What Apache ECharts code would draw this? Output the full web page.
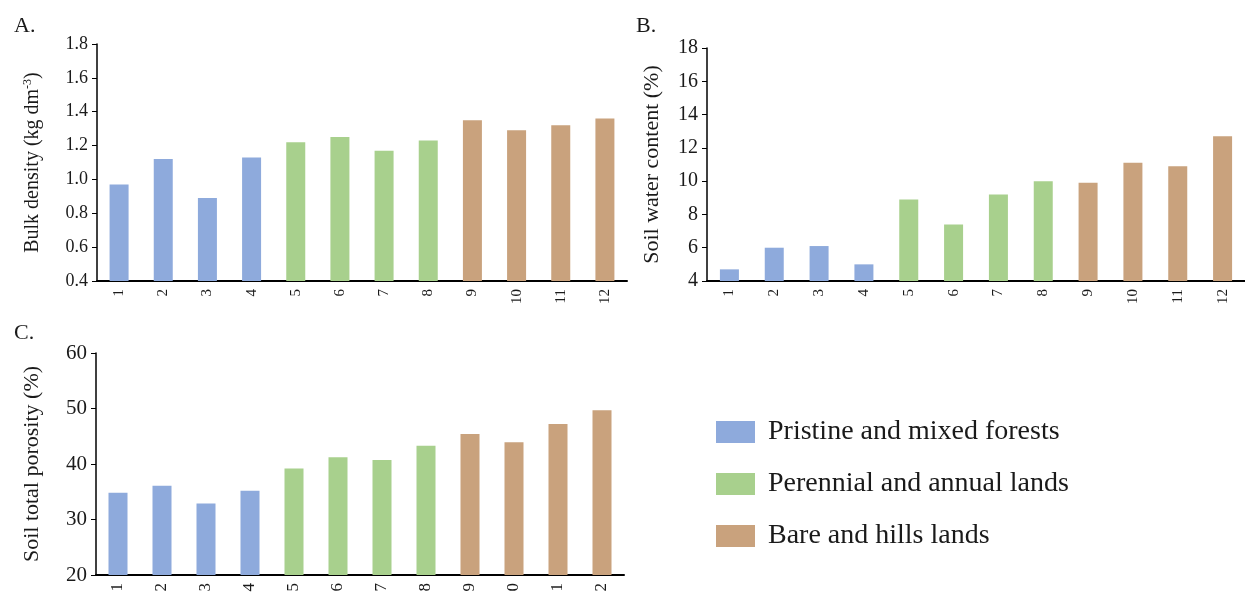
<!DOCTYPE html>
<html>
<head>
<meta charset="utf-8">
<script src="https://cdn.jsdelivr.net/npm/echarts@6/dist/echarts.min.js"></script>
<style>
html,body{margin:0;padding:0;background:#fff;}
#chart{width:1245px;height:597px;}
</style>
</head>
<body>
<div id="chart"></div>
<script>
// ---- data ----
var categories = ["1","2","3","4","5","6","7","8","9","10","11","12"];
var categoryLabelsC = ["1","2","3","4","5","6","7","8","9","0","1","2"];
var groupNames = ["Pristine and mixed forests","Perennial and annual lands","Bare and hills lands"];
var groupOfCategory = [0,0,0,0,1,1,1,1,2,2,2,2];
var bulkDensity = [0.97,1.12,0.89,1.13,1.22,1.25,1.17,1.23,1.35,1.29,1.32,1.36];
var soilWater = [4.7,6.0,6.1,5.0,8.9,7.4,9.2,10.0,9.9,11.1,10.9,12.7];
var porosity = [34.8,36.1,32.9,35.2,39.2,41.2,40.7,43.3,45.4,43.9,47.2,49.7];
var yTicksA = [0.4,1.8,0.2];
var yTicksB = [4,18,2];
var yTicksC = [20,60,10];

// ---- styles ----
var colors = ["#8eaadc","#a8d08d","#c9a27d"];
var FONT = "Liberation Serif";
var TXT = "#1a1a1a";

var grids = [
  {left:97, top:44, width:530, height:237},
  {left:707, top:48, width:543, height:233},
  {left:96, top:353, width:528, height:222}
];

function xAxisFor(i, fs, labels){
  return {
    type:'category', gridIndex:i, data:categories,
    axisLine:{lineStyle:{color:'#000', width:2}},
    axisTick:{show:false},
    axisLabel:{rotate:90, fontFamily:FONT, fontSize:fs, color:TXT, margin:8,
      formatter:function(v, idx){ return labels ? labels[idx] : v; }}
  };
}
function yAxisFor(i, ticks, fs, nameRich, gap, dec, nfs){
  return {
    type:'value', gridIndex:i, min:ticks[0], max:ticks[1], interval:ticks[2],
    splitLine:{show:false},
    axisLine:{show:true, lineStyle:{color:'#000', width:1.5}},
    axisTick:{show:true, length:5, lineStyle:{color:'#000'}},
    axisLabel:{fontFamily:FONT, fontSize:fs, color:TXT, margin:9,
      formatter:function(v){ return v.toFixed(dec); }},
    name:nameRich, nameLocation:'middle', nameGap:gap, nameRotate:90,
    nameTextStyle:{fontFamily:FONT, fontSize:nfs, color:TXT,
      rich:{sup:{fontFamily:FONT, fontSize:12, color:TXT, verticalAlign:'top', padding:[0,0,9,0]}}}
  };
}

var datasets = [bulkDensity, soilWater, porosity];
var series = [];
for (var gi=0; gi<3; gi++){
  for (var g=0; g<3; g++){
    var vals = datasets[gi];
    var d = [];
    for (var k=0; k<vals.length; k++){ d.push(groupOfCategory[k]===g ? vals[k] : null); }
    series.push({
      type:'bar', name:groupNames[g], xAxisIndex:gi, yAxisIndex:gi,
      stack:'s'+gi, barWidth:19, data:d,
      itemStyle:{color:colors[g]}
    });
  }
}

var tstyle = {fontFamily:FONT, fontSize:22, fontWeight:'normal', color:TXT};
var option = {
  backgroundColor:'#fff',
  animation:false,
  title:[
    {text:'A.', left:9, top:10, textStyle:tstyle},
    {text:'B.', left:631, top:10, textStyle:tstyle},
    {text:'C.', left:9, top:317, textStyle:tstyle}
  ],
  grid:grids,
  xAxis:[xAxisFor(0,15,null), xAxisFor(1,15,null), xAxisFor(2,17,categoryLabelsC)],
  yAxis:[
    yAxisFor(0, yTicksA, 18, 'Bulk density (kg dm{sup|-3})', 54, 1, 20),
    yAxisFor(1, yTicksB, 20, 'Soil water content (%)', 44, 0, 22),
    yAxisFor(2, yTicksC, 21, 'Soil total porosity (%)', 53, 0, 22)
  ],
  legend:{
    orient:'vertical', left:711, top:413, data:groupNames,
    icon:'rect', itemWidth:39, itemHeight:22, itemGap:24,
    textStyle:{fontFamily:FONT, fontSize:28, color:TXT, padding:[0,0,0,8]},
    selectedMode:false
  },
  series:series
};

var chart = echarts.init(document.getElementById('chart'), null, {renderer:'canvas'});
chart.setOption(option);
</script>
</body>
</html>
